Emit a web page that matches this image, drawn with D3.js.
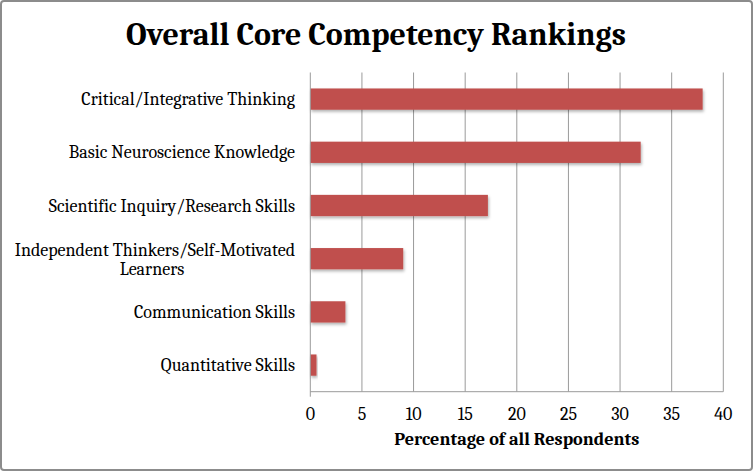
<!DOCTYPE html>
<html><head><meta charset="utf-8">
<script src="https://cdn.jsdelivr.net/npm/d3@7"></script>
<style>body{margin:0;background:#fff}svg{display:block}</style>
</head><body>
<script>
const categories = ["Critical/Integrative Thinking","Basic Neuroscience Knowledge","Scientific Inquiry/Research Skills","Independent Thinkers/Self-Motivated Learners","Communication Skills","Quantitative Skills"];
const labelLines = [["Critical/Integrative Thinking"],["Basic Neuroscience Knowledge"],["Scientific Inquiry/Research Skills"],["Independent Thinkers/Self-Motivated","Learners"],["Communication Skills"],["Quantitative Skills"]];
const values = [38, 32, 17.2, 9, 3.4, 0.6];
const xTicks = [0,5,10,15,20,25,30,35,40];
const title = "Overall Core Competency Rankings";
const xTitle = "Percentage of  all Respondents";

const W = 753, H = 471;
const m = {left:310.3, right:753-723.3, top:72.5, bottom:471-391.7};
const svg = d3.select("body").append("svg").attr("width",W).attr("height",H);
const serif = "Cambria, Caladea, 'Liberation Serif', 'DejaVu Serif', serif";

svg.append("rect").attr("x",1).attr("y",1).attr("width",W-2).attr("height",H-2)
  .attr("rx",3).attr("fill","#fff").attr("stroke","#8c8c8c").attr("stroke-width",2);

const defs = svg.append("defs");
const f = defs.append("filter").attr("id","sh").attr("x","-10%").attr("y","-30%").attr("width","130%").attr("height","180%");
f.append("feDropShadow").attr("dx",1).attr("dy",2).attr("stdDeviation",1.5).attr("flood-color","#000").attr("flood-opacity",0.3);

const x = d3.scaleLinear().domain([0,40]).range([m.left, W-m.right]);
const y = d3.scaleBand().domain(categories).range([m.top, H-m.bottom]).paddingInner(0.6).paddingOuter(0.3);

// gridlines
svg.append("g").selectAll("line").data(xTicks.filter(d=>d>0)).join("line")
  .attr("x1",d=>x(d)).attr("x2",d=>x(d)).attr("y1",m.top).attr("y2",H-m.bottom)
  .attr("stroke","#9a9a9a").attr("stroke-width",1);

// bars
svg.append("g").selectAll("rect").data(values).join("rect")
  .attr("x",x(0)).attr("y",(d,i)=>y(categories[i]))
  .attr("width",d=>x(d)-x(0)).attr("height",y.bandwidth())
  .attr("fill","#c0504d").attr("filter","url(#sh)");

// axes lines
svg.append("line").attr("x1",m.left).attr("x2",m.left).attr("y1",m.top).attr("y2",H-m.bottom+5)
  .attr("stroke","#9a9a9a");
svg.append("line").attr("x1",m.left).attr("x2",W-m.right).attr("y1",H-m.bottom).attr("y2",H-m.bottom)
  .attr("stroke","#9a9a9a");

// x tick labels
svg.append("g").selectAll("text").data(xTicks).join("text")
  .attr("x",d=>x(d)).attr("y",420).attr("text-anchor","middle")
  .attr("font-family",serif).attr("font-size",18).attr("fill","#000").text(d=>d);

// y labels
const yl = svg.append("g");
labelLines.forEach((lines,i)=>{
  const cy = y(categories[i]) + y.bandwidth()/2;
  const n = lines.length;
  const t = yl.append("text").attr("font-family",serif).attr("font-size",18).attr("fill","#000");
  lines.forEach((ln,j)=>{
    const isLast = n>1 && j===n-1;
    t.append("tspan").attr("x", isLast ? 152 : 295).attr("text-anchor", isLast ? "middle":"end")
      .attr("y", n>1 ? cy - 3 + j*19.5 : cy + 6).text(ln);
  });
});

// title
svg.append("text").attr("x",376).attr("y",45).attr("text-anchor","middle")
  .attr("font-family",serif).attr("font-weight","bold").attr("font-size",32)
  .attr("textLength",500).attr("lengthAdjust","spacingAndGlyphs").text(title);

// x title
svg.append("text").attr("x",(x(0)+x(40))/2).attr("y",445).attr("text-anchor","middle")
  .attr("font-family",serif).attr("font-weight","bold").attr("font-size",17.5)
  .attr("textLength",245).attr("lengthAdjust","spacingAndGlyphs").text(xTitle);
</script>
</body></html>
